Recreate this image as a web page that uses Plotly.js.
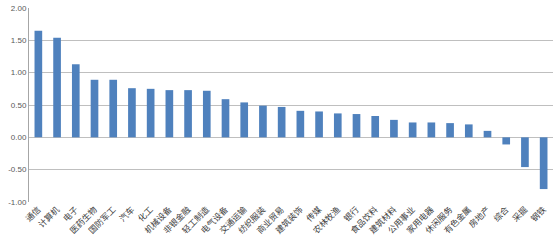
<!DOCTYPE html>
<html>
<head>
<meta charset="utf-8">
<script src="https://cdn.plot.ly/plotly-3.0.1.min.js"></script>
<style>html,body{margin:0;padding:0;background:#fff;}#chart{width:556px;height:242px;}</style>
</head>
<body>
<div id="chart"></div>
<script>
const categories = ["通信","计算机","电子","医药生物","国防军工","汽车","化工","机械设备","非银金融","轻工制造","电气设备","交通运输","纺织服装","商业贸易","建筑装饰","传媒","农林牧渔","银行","食品饮料","建筑材料","公用事业","家用电器","休闲服务","有色金属","房地产","综合","采掘","钢铁"];
const values = [1.65,1.54,1.13,0.89,0.89,0.76,0.75,0.73,0.73,0.72,0.59,0.54,0.49,0.47,0.41,0.40,0.37,0.36,0.33,0.27,0.23,0.23,0.22,0.20,0.10,-0.11,-0.46,-0.80];
const yTicks = [-1,-0.5,0,0.5,1,1.5,2];
const yTickText = ["-1.00","-0.50","0.00","0.50","1.00","1.50","2.00"];

const font = "'Noto Sans CJK SC', 'Noto Sans', sans-serif";
Plotly.newPlot('chart', [{
  type: 'bar',
  x: categories,
  y: values,
  marker: {color: '#4F81BD', line: {width: 0}},
  hoverinfo: 'none'
}], {
  width: 556, height: 242,
  margin: {l: 29, r: 3, t: 8, b: 40},
  paper_bgcolor: '#fff', plot_bgcolor: '#fff',
  bargap: 0.59,
  showlegend: false,
  xaxis: {
    type: 'category',
    tickangle: -45,
    tickfont: {family: font, size: 8.5, color: '#404040'},
    showgrid: false, zeroline: false, showline: false,
    ticks: '', automargin: false
  },
  xaxis2: {
    type: 'category',
    overlaying: 'x',
    matches: 'x',
    anchor: 'free',
    position: 1/3,
    showticklabels: false,
    showline: true, linecolor: '#a6a6a6', linewidth: 1,
    ticks: 'outside', ticklen: 3, tickcolor: '#a6a6a6',
    tickson: 'boundaries',
    showgrid: false, zeroline: false
  },
  yaxis: {
    range: [-1, 2],
    tickvals: yTicks, ticktext: yTickText,
    tickfont: {family: "'Liberation Sans', sans-serif", size: 8, color: '#595959'},
    showgrid: true, gridcolor: '#bfbfbf', gridwidth: 1,
    zeroline: false,
    showline: true, linecolor: '#a6a6a6', linewidth: 1,
    ticks: '', automargin: false
  }
}, {displayModeBar: false, staticPlot: true});
</script>
</body>
</html>
